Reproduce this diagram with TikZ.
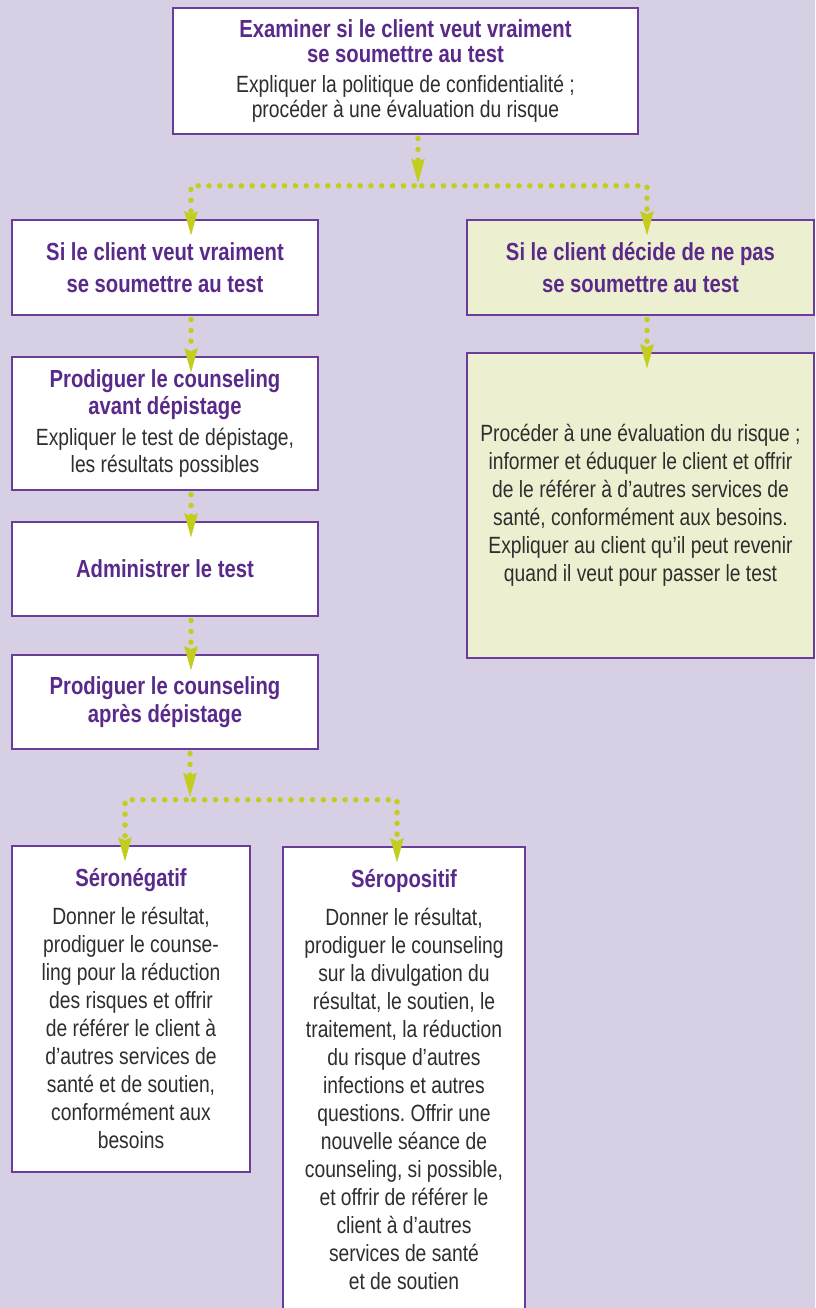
\documentclass[tikz,border=0pt]{standalone}
\usepackage{fontspec}
\setmainfont[FakeStretch=0.82]{Liberation Sans}
\usetikzlibrary{arrows.meta}
\frenchspacing
\definecolor{fond}{HTML}{D7CFE4}
\definecolor{bord}{HTML}{6A3D9A}
\definecolor{violet}{HTML}{5A2A8A}
\definecolor{texte}{HTML}{2E2E2E}
\definecolor{vert}{HTML}{C3CD1E}
\definecolor{vertclair}{HTML}{EDF0D0}
\newcommand{\titre}[1]{\textcolor{violet}{\fontsize{24.7}{28}\selectfont\bfseries #1}}
\begin{document}
\begin{tikzpicture}[x=1pt,y=-1pt,
  boite/.style={draw=bord,line width=1.6pt,fill=white,inner sep=0pt,align=center,text=texte,font=\fontsize{23.5}{28}\selectfont},
  clair/.style={fill=vertclair},
  flow/.style={draw=vert,line width=5.5pt,line cap=round,dash pattern=on 0pt off 10.8pt,dash phase=7pt,
    -{Stealth[length=24pt,width=13.5pt,inset=3pt,line width=0.5pt]},shorten >=-16pt}]
\fill[fond] (0,0) rectangle (815,1308);
\useasboundingbox (0,0) rectangle (815,1308);

\node[boite,minimum width=465pt,minimum height=126pt,font=\fontsize{23.5}{25.5}\selectfont] (Q) at (405.5,71)
  {\titre{Examiner si le client veut vraiment}\\ \titre{se soumettre au test}\\[4pt]
   Expliquer la politique de confidentialité ;\\ procéder à une évaluation du risque};
\node[boite,minimum width=306pt,minimum height=95pt,font=\fontsize{23.5}{32}\selectfont] (oui) at (165,267.5)
  {\titre{Si le client veut vraiment}\\ \titre{se soumettre au test}};
\node[boite,clair,minimum width=347pt,minimum height=95pt,font=\fontsize{23.5}{32}\selectfont] (non) at (640.5,267.5)
  {\titre{Si le client décide de ne pas}\\ \titre{se soumettre au test}};
\node[boite,clair,minimum width=347pt,minimum height=305pt] (info) at (640.5,505.5)
  {Procéder à une évaluation du risque ;\\ informer et éduquer le client et offrir\\ de le référer à d’autres services de\\
   santé, conformément aux besoins.\\ Expliquer au client qu’il peut revenir\\ quand il veut pour passer le test};
\node[boite,minimum width=306pt,minimum height=133pt,font=\fontsize{23.5}{27}\selectfont] (avant) at (165,423.5)
  {\titre{Prodiguer le counseling}\\ \titre{avant dépistage}\\[4pt]
   Expliquer le test de dépistage,\\ les résultats possibles};
\node[boite,minimum width=306pt,minimum height=94pt] (test) at (165,569)
  {\titre{Administrer le test}};
\node[boite,minimum width=306pt,minimum height=94pt] (apres) at (165,702)
  {\titre{Prodiguer le counseling}\\ \titre{après dépistage}};
\node[boite,minimum width=238pt,minimum height=326pt] (neg) at (131,1009)
  {\titre{Séronégatif}\\[10pt] Donner le résultat,\\ prodiguer le counse-\\ ling pour la réduction\\
   des risques et offrir\\ de référer le client à\\ d’autres services de\\ santé et de soutien,\\
   conformément aux\\ besoins};
\node[boite,minimum width=242pt,minimum height=465pt] (pos) at (404,1079.5)
  {\titre{Séropositif}\\[10pt] Donner le résultat,\\ prodiguer le counseling\\ sur la divulgation du\\
   résultat, le soutien, le\\ traitement, la réduction\\ du risque d’autres\\ infections et autres\\
   questions. Offrir une\\ nouvelle séance de\\ counseling, si possible,\\ et offrir de référer le\\
   client à d’autres\\ services de santé\\ et de soutien};

\coordinate (b1) at ([xshift=12.5pt,yshift=-51pt]Q.south);
\draw[flow,shorten >=3pt] (Q.south -| b1) -- (b1);
\draw[flow] (b1) -| ([xshift=26pt]oui.north);
\draw[flow] (b1) -| ([xshift=6.5pt]non.north);
\draw[flow] ([xshift=26pt]oui.south) -- ([xshift=26pt]avant.north);
\draw[flow] ([xshift=6.5pt]non.south) -- ([xshift=6.5pt]info.north);
\draw[flow] ([xshift=26pt]avant.south) -- ([xshift=26pt]test.north);
\draw[flow] ([xshift=26pt]test.south) -- ([xshift=26pt]apres.north);
\coordinate (b2) at ([xshift=25pt,yshift=-50pt]apres.south);
\draw[flow,shorten >=3pt] ([xshift=25pt]apres.south) -- (b2);
\draw[flow] (b2) -| ([xshift=-6pt]neg.north);
\draw[flow] (b2) -| ([xshift=-7pt]pos.north);
\end{tikzpicture}
\end{document}
